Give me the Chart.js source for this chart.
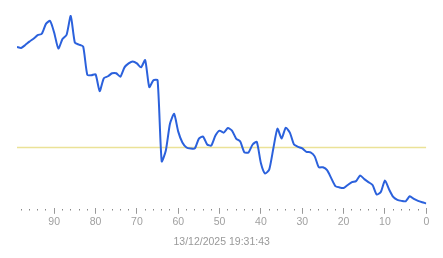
<!DOCTYPE html>
<html>
<head>
<meta charset="utf-8">
<script src="https://cdn.jsdelivr.net/npm/chart.js@4/dist/chart.umd.min.js"></script>
<style>
  html, body { margin: 0; padding: 0; background: #fff; }
  #wrap { width: 443px; height: 258px; }
</style>
</head>
<body>
<div id="wrap"><canvas id="chart"></canvas></div>
<script>
// x positions (read right to left on the chart)
const ages = [99, 98, 97, 96, 95, 94, 93, 92, 91, 90,
              89, 88, 87, 86, 85, 84, 83, 82, 81, 80,
              79, 78, 77, 76, 75, 74, 73, 72, 71, 70,
              69, 68, 67, 66, 65, 64, 63, 62, 61, 60,
              59, 58, 57, 56, 55, 54, 53, 52, 51, 50,
              49, 48, 47, 46, 45, 44, 43, 42, 41, 40,
              39, 38, 37, 36, 35, 34, 33, 32, 31, 30,
              29, 28, 27, 26, 25, 24, 23, 22, 21, 20,
              19, 18, 17, 16, 15, 14, 13, 12, 11, 10,
              9, 8, 7, 6, 5, 4, 3, 2, 1, 0];

const values = [81.3, 80.8, 82.3, 84, 85.5, 87.3, 88, 93, 94.5, 88.5,
                80.5, 85.3, 87.5, 97, 83.5, 82.5, 81.5, 67.3, 67, 67.5,
                59, 65.5, 66.5, 68, 68, 66.3, 71, 73, 74, 73,
                71, 74.7, 61, 64.5, 64.5, 23.5, 29, 42.5, 47.5, 38.5,
                33, 30.5, 30, 30, 35, 36, 32, 31.5, 36.5, 39,
                38, 40.3, 39, 35, 33.5, 28, 28, 32, 33.3, 22.5,
                17.3, 19.3, 30, 40, 35, 40.5, 38, 32, 30.8, 30,
                28.3, 28, 26, 20.5, 20.5, 19, 15, 11, 10.3, 10,
                11.5, 13, 13.5, 16.3, 14.5, 13, 11.5, 6.7, 8, 13.8,
                9.3, 5.5, 4, 3.5, 3.3, 5.8, 4.5, 3.5, 2.8, 2.2];

const threshold = 30.5;
const stampText = '13/12/2025 19:31:43';

const lineData = ages.map((a, i) => ({ x: a, y: values[i] }));
const refData = [{ x: ages[0], y: threshold }, { x: ages[ages.length - 1], y: threshold }];

new Chart(document.getElementById('chart'), {
    type: 'line',
    data: {
        datasets: [
            {
                data: refData,
                borderColor: '#ebe297',
                borderWidth: 1.5,
                pointRadius: 0,
                order: 2
            },
            {
                data: lineData,
                borderColor: '#2b61dc',
                borderWidth: 2,
                pointRadius: 0,
                tension: 0.2,
                order: 1
            }
        ]
    },
    options: {
        responsive: true,
        maintainAspectRatio: false,
        animation: false,
        layout: { padding: { left: 17, right: 16.7, top: 10, bottom: 10 } },
        plugins: { legend: { display: false }, tooltip: { enabled: false } },
        scales: {
            x: {
                type: 'linear',
                reverse: true,
                min: 0,
                max: 99,
                border: { display: false },
                grid: {
                    drawOnChartArea: false,
                    drawTicks: true,
                    tickLength: 6,
                    tickWidth: 1,
                    tickColor: ctx => ctx.tick && ctx.tick.value % 10 === 0 ? '#999' : '#888',
                    tickBorderDash: ctx => ctx.tick && ctx.tick.value % 10 === 0 ? [] : [1.5, 20],
                    tickBorderDashOffset: ctx => ctx.tick && ctx.tick.value % 10 === 0 ? 0 : -1
                },
                ticks: {
                    stepSize: 2,
                    includeBounds: false,
                    autoSkip: false,
                    maxRotation: 0,
                    padding: 2,
                    color: '#a0a0a0',
                    font: { family: 'Liberation Sans, Arial, sans-serif', size: 10.5 },
                    callback: v => v % 10 === 0 ? String(v) : ''
                },
                title: {
                    display: true,
                    text: stampText,
                    color: '#999',
                    font: { family: 'Liberation Sans, Arial, sans-serif', size: 10.5 },
                    padding: { top: 5, bottom: 0 }
                }
            },
            y: {
                display: false,
                min: 0,
                max: 100
            }
        }
    }
});
</script>
</body>
</html>
